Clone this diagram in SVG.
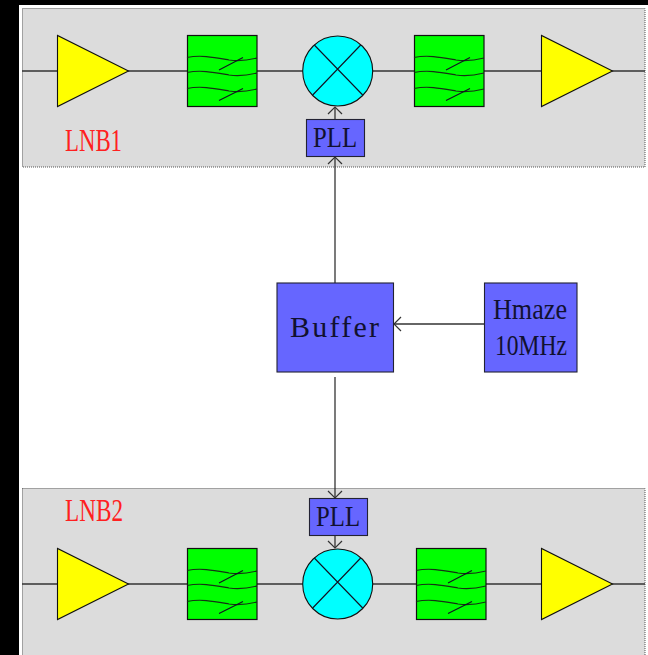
<svg xmlns="http://www.w3.org/2000/svg" width="648" height="655" viewBox="0 0 648 655">
<style>
.panel{fill:#dcdcdc;stroke:#555;stroke-width:1;stroke-dasharray:1 1}
.amp{fill:#ff0;stroke:#111;stroke-width:1.1}
.flt{fill:#0f0;stroke:#111;stroke-width:1.2}
.mix{fill:#0ff;stroke:#111;stroke-width:1.1}
.box{fill:#66f;stroke:#223;stroke-width:1.1}
.thin{fill:none;stroke:#143214;stroke-width:1.2}
.x{fill:none;stroke:#112;stroke-width:1.1}
.wire{fill:none;stroke:#333;stroke-width:1.3}
.t{font-family:"Liberation Serif",serif;fill:#111130;font-size:30px}
.lnb{font-family:"Liberation Serif",serif;fill:#ff2020;font-size:31px}
</style>
<defs>
<marker id="open" markerUnits="userSpaceOnUse" markerWidth="18" markerHeight="18" refX="8" refY="8" viewBox="0 0 18 18" orient="auto"><path d="M1,1 L8,8 L1,15" fill="none" stroke="#333" stroke-width="1.2"/></marker>
<g id="waves">
<path class="thin" d="M0,22.500C14,19.500 28,22.500 42,25C52,26.500 62,25 70,23"/>
<path class="thin" d="M0,37.500C14,34.500 28,37.500 42,40C52,41.500 62,40 70,38"/>
<path class="thin" d="M0,53.500C14,50.500 28,53.500 42,56C52,57.500 62,56 70,54"/>
<path class="x" d="M32,35L56,22.500M32,65.500L56,53.500"/>
</g>
</defs>
<rect x="0" y="0" width="648" height="655" fill="#fff"/>
<path d="M0,0H648V5H19V655H0Z" fill="#000"/>
<rect class="panel" x="22.500" y="8.500" width="622.500" height="158.500"/>
<rect class="panel" x="22.500" y="488.500" width="622.500" height="170"/>
<g id="connectors">
<path class="wire" d="M22,71H645"/>
<path class="wire" d="M22,584H645"/>
<path class="wire" d="M335,283V157" marker-end="url(#open)"/>
<path class="wire" d="M335,119V107" marker-end="url(#open)"/>
<path class="wire" d="M484,324H394" marker-end="url(#open)"/>
<path class="wire" d="M335,377V498" marker-end="url(#open)"/>
<path class="wire" d="M335,535V548" marker-end="url(#open)"/>
</g>
<g id="amp1a"><polygon class="amp" points="57.500,35.500 57.500,106.500 128.500,71"/></g>
<g id="filter1a"><rect class="flt" x="187.500" y="35.500" width="69.500" height="71"/><use href="#waves" x="187" y="35"/></g>
<g id="mixer1"><circle class="mix" cx="337.700" cy="71" r="35"/><path class="x" d="M314.300,45L362.700,95M360.700,45L312.700,95"/></g>
<g id="filter1b"><rect class="flt" x="414.500" y="35.500" width="69.500" height="71"/><use href="#waves" x="414" y="35"/></g>
<g id="amp1b"><polygon class="amp" points="541.500,35.500 541.500,106.500 612.500,71"/></g>
<g id="lnb1"><text class="lnb" x="65" y="151" textLength="57" lengthAdjust="spacingAndGlyphs">LNB1</text></g>
<g id="pll1"><rect class="box" x="306.500" y="119.500" width="58" height="37"/><text class="t" x="313" y="147" textLength="44" lengthAdjust="spacingAndGlyphs">PLL</text></g>
<g id="buffer"><rect class="box" x="277" y="283" width="116.500" height="89"/><text class="t" x="290" y="337" textLength="89" lengthAdjust="spacing">Buffer</text></g>
<g id="hmaze"><rect class="box" x="484.500" y="283" width="92.500" height="89"/><text class="t" x="493" y="319" textLength="74" lengthAdjust="spacingAndGlyphs">Hmaze</text><text class="t" x="495" y="355" textLength="72" lengthAdjust="spacingAndGlyphs">10MHz</text></g>
<g id="lnb2"><text class="lnb" x="65" y="521" textLength="58" lengthAdjust="spacingAndGlyphs">LNB2</text></g>
<g id="pll2"><rect class="box" x="309.500" y="498.500" width="58" height="37"/><text class="t" x="316" y="526" textLength="44" lengthAdjust="spacingAndGlyphs">PLL</text></g>
<g id="amp2a"><polygon class="amp" points="57.500,548.500 57.500,619.500 128.500,584"/></g>
<g id="filter2a"><rect class="flt" x="187.500" y="548.500" width="69.500" height="71"/><use href="#waves" x="187" y="548"/></g>
<g id="mixer2"><circle class="mix" cx="337.700" cy="584" r="35"/><path class="x" d="M314.300,558L362.700,608M360.700,558L312.700,608"/></g>
<g id="filter2b"><rect class="flt" x="416.500" y="548.500" width="69.500" height="71"/><use href="#waves" x="416" y="548"/></g>
<g id="amp2b"><polygon class="amp" points="541.500,548.500 541.500,619.500 612.500,584"/></g>
</svg>
